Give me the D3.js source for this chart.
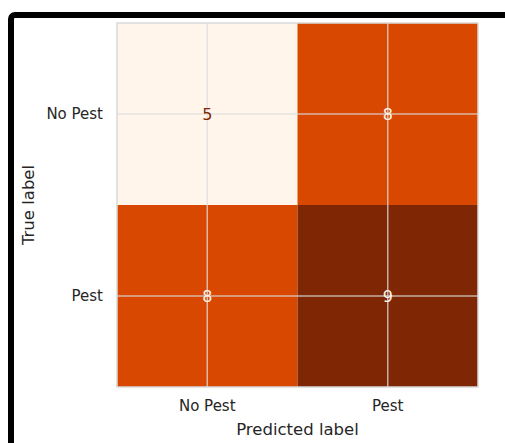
<!DOCTYPE html>
<html>
<head>
<meta charset="utf-8">
<script src="https://cdn.jsdelivr.net/npm/d3@7"></script>
<style>
  html, body { margin: 0; padding: 0; background: #fff; }
  svg { display: block; }
  text { font-family: "DejaVu Sans", sans-serif; fill: #262626; }
</style>
</head>
<body>
<script>
const trueLabels = ["No Pest", "Pest"];
const predictedLabels = ["No Pest", "Pest"];
const countsNoPest = [5, 8];
const countsPest = [8, 9];
const counts = [countsNoPest, countsPest];
const orangesStops = ["#fff5eb", "#fee6ce", "#fdd0a2", "#fdae6b", "#fd8d3c", "#f16913", "#d94801", "#a63603", "#7f2704"];

const W = 505, H = 443;
const svg = d3.select("body").append("svg").attr("width", W).attr("height", H);

// outer frame
svg.append("rect")
  .attr("x", 11).attr("y", 15).attr("width", 700).attr("height", 700)
  .attr("rx", 4).attr("fill", "none").attr("stroke", "#000").attr("stroke-width", 6);

const plot = { left: 117, right: 478, top: 23, bottom: 387 };
const x = d3.scaleBand().domain(predictedLabels).range([plot.left, plot.right]);
const y = d3.scaleBand().domain(trueLabels).range([plot.top, plot.bottom]);

const flat = [];
counts.forEach((row, i) => row.forEach((v, j) => flat.push({ t: trueLabels[i], p: predictedLabels[j], v })));
const vmin = d3.min(flat, d => d.v), vmax = d3.max(flat, d => d.v);
const color = d3.scaleLinear()
  .domain(orangesStops.map((_, i) => vmin + (vmax - vmin) * i / (orangesStops.length - 1)))
  .range(orangesStops).clamp(true);
const thresh = (vmin + vmax) / 2;

svg.append("g").selectAll("rect").data(flat).join("rect")
  .attr("x", d => x(d.p)).attr("y", d => y(d.t))
  .attr("width", x.bandwidth()).attr("height", y.bandwidth())
  .attr("fill", d => color(d.v));

// grid lines at tick positions
const grid = svg.append("g").attr("stroke", "#dcdcdc").attr("stroke-opacity", 0.75).attr("stroke-width", 1.5);
predictedLabels.forEach(c => {
  const cx = x(c) + x.bandwidth() / 2;
  grid.append("line").attr("x1", cx).attr("x2", cx).attr("y1", plot.top).attr("y2", plot.bottom);
});
trueLabels.forEach(r => {
  const cy = y(r) + y.bandwidth() / 2;
  grid.append("line").attr("x1", plot.left).attr("x2", plot.right).attr("y1", cy).attr("y2", cy);
});

// spines
svg.append("rect")
  .attr("x", plot.left).attr("y", plot.top)
  .attr("width", plot.right - plot.left).attr("height", plot.bottom - plot.top)
  .attr("fill", "none").attr("stroke", "#d9d9d9").attr("stroke-width", 1.5);

// cell values
svg.append("g").selectAll("text").data(flat).join("text")
  .attr("x", d => x(d.p) + x.bandwidth() / 2)
  .attr("y", d => y(d.t) + y.bandwidth() / 2 + 5.8)
  .attr("text-anchor", "middle")
  .style("font-size", "16px")
  .style("fill", d => d.v > thresh ? orangesStops[0] : orangesStops[orangesStops.length - 1])
  .text(d => d.v);

// axes
const xAxis = d3.axisBottom(x).tickSize(0).tickPadding(0);
const gx = svg.append("g").attr("transform", `translate(0,${plot.bottom})`).call(xAxis);
gx.select(".domain").remove();
gx.selectAll("text").attr("dy", null).attr("y", 24).style("font-size", "15px").style("fill", "#262626").style("font-family", "DejaVu Sans, sans-serif");

const yAxis = d3.axisLeft(y).tickSize(0).tickPadding(0);
const gy = svg.append("g").attr("transform", `translate(${plot.left},0)`).call(yAxis);
gy.select(".domain").remove();
gy.selectAll("text").attr("x", -14).attr("dy", "0.36em").style("font-size", "15px").style("fill", "#262626").style("font-family", "DejaVu Sans, sans-serif");

svg.append("text")
  .attr("x", (plot.left + plot.right) / 2).attr("y", 435)
  .attr("text-anchor", "middle").style("font-size", "16.5px")
  .text("Predicted label");

svg.append("text")
  .attr("transform", `translate(34,${(plot.top + plot.bottom) / 2}) rotate(-90)`)
  .attr("text-anchor", "middle").style("font-size", "16.5px")
  .text("True label");
</script>
</body>
</html>
